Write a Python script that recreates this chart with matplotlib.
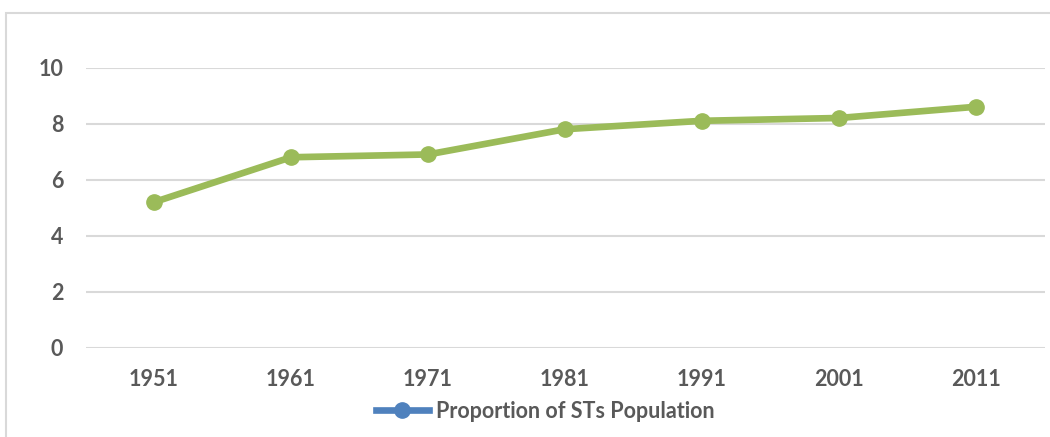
import matplotlib.pyplot as plt
from matplotlib.lines import Line2D
from matplotlib.patches import Rectangle

years = ["1951", "1961", "1971", "1981", "1991", "2001", "2011"]
st_share = [5.2, 6.8, 6.9, 7.8, 8.1, 8.2, 8.6]
y_ticks = [0, 2, 4, 6, 8, 10]

plt.rcParams['font.family'] = ['Lato', 'DejaVu Sans']
text_color = "#595959"
green = "#9BBB59"
blue = "#4F81BD"
fs = 15.5

fig = plt.figure(figsize=(10.5, 4.37), dpi=100)
ax = fig.add_axes([85.5 / 1050, 1 - 348 / 437, (1044.5 - 85.5) / 1050, (348 - 67.5) / 437])

x = list(range(len(years)))
ax.plot(x, st_share, color=green, linewidth=4.8, marker="o", markersize=11,
        markerfacecolor=green, markeredgecolor=green, solid_capstyle="round", zorder=3)

ax.set_xlim(-0.5, len(years) - 0.5)
ax.set_ylim(0, 10)
ax.set_yticks(y_ticks)
ax.set_xticks(x)
ax.set_xticklabels(years)
ax.yaxis.grid(True, color="#D9D9D9", linewidth=1.5)
ax.set_axisbelow(True)
for s in ax.spines.values():
    s.set_visible(False)
ax.tick_params(length=0, labelsize=fs, labelcolor=text_color)
for lbl in ax.get_xticklabels() + ax.get_yticklabels():
    lbl.set_fontweight("bold")
ax.tick_params(axis="x", pad=15)
ax.tick_params(axis="y", pad=16)

# chart border (partly cropped in the original)
fig.patches.append(Rectangle((6 / 1050, -0.1), 1.2, 1 - 13 / 437 + 0.1,
                             transform=fig.transFigure, fill=False,
                             edgecolor="#D9D9D9", linewidth=1.5))

handle = Line2D([], [], color=blue, linewidth=4.8, marker="o", markersize=11,
                markerfacecolor=blue, markeredgecolor=blue)
fig.legend([handle], ["Proportion of STs Population"], loc="center",
           bbox_to_anchor=(545 / 1050, 1 - 411 / 437), frameon=False,
           handlelength=2.5, handletextpad=0.3,
           prop={"size": fs, "weight": "bold"}, labelcolor=text_color)

fig.savefig("out.png", dpi=100)
